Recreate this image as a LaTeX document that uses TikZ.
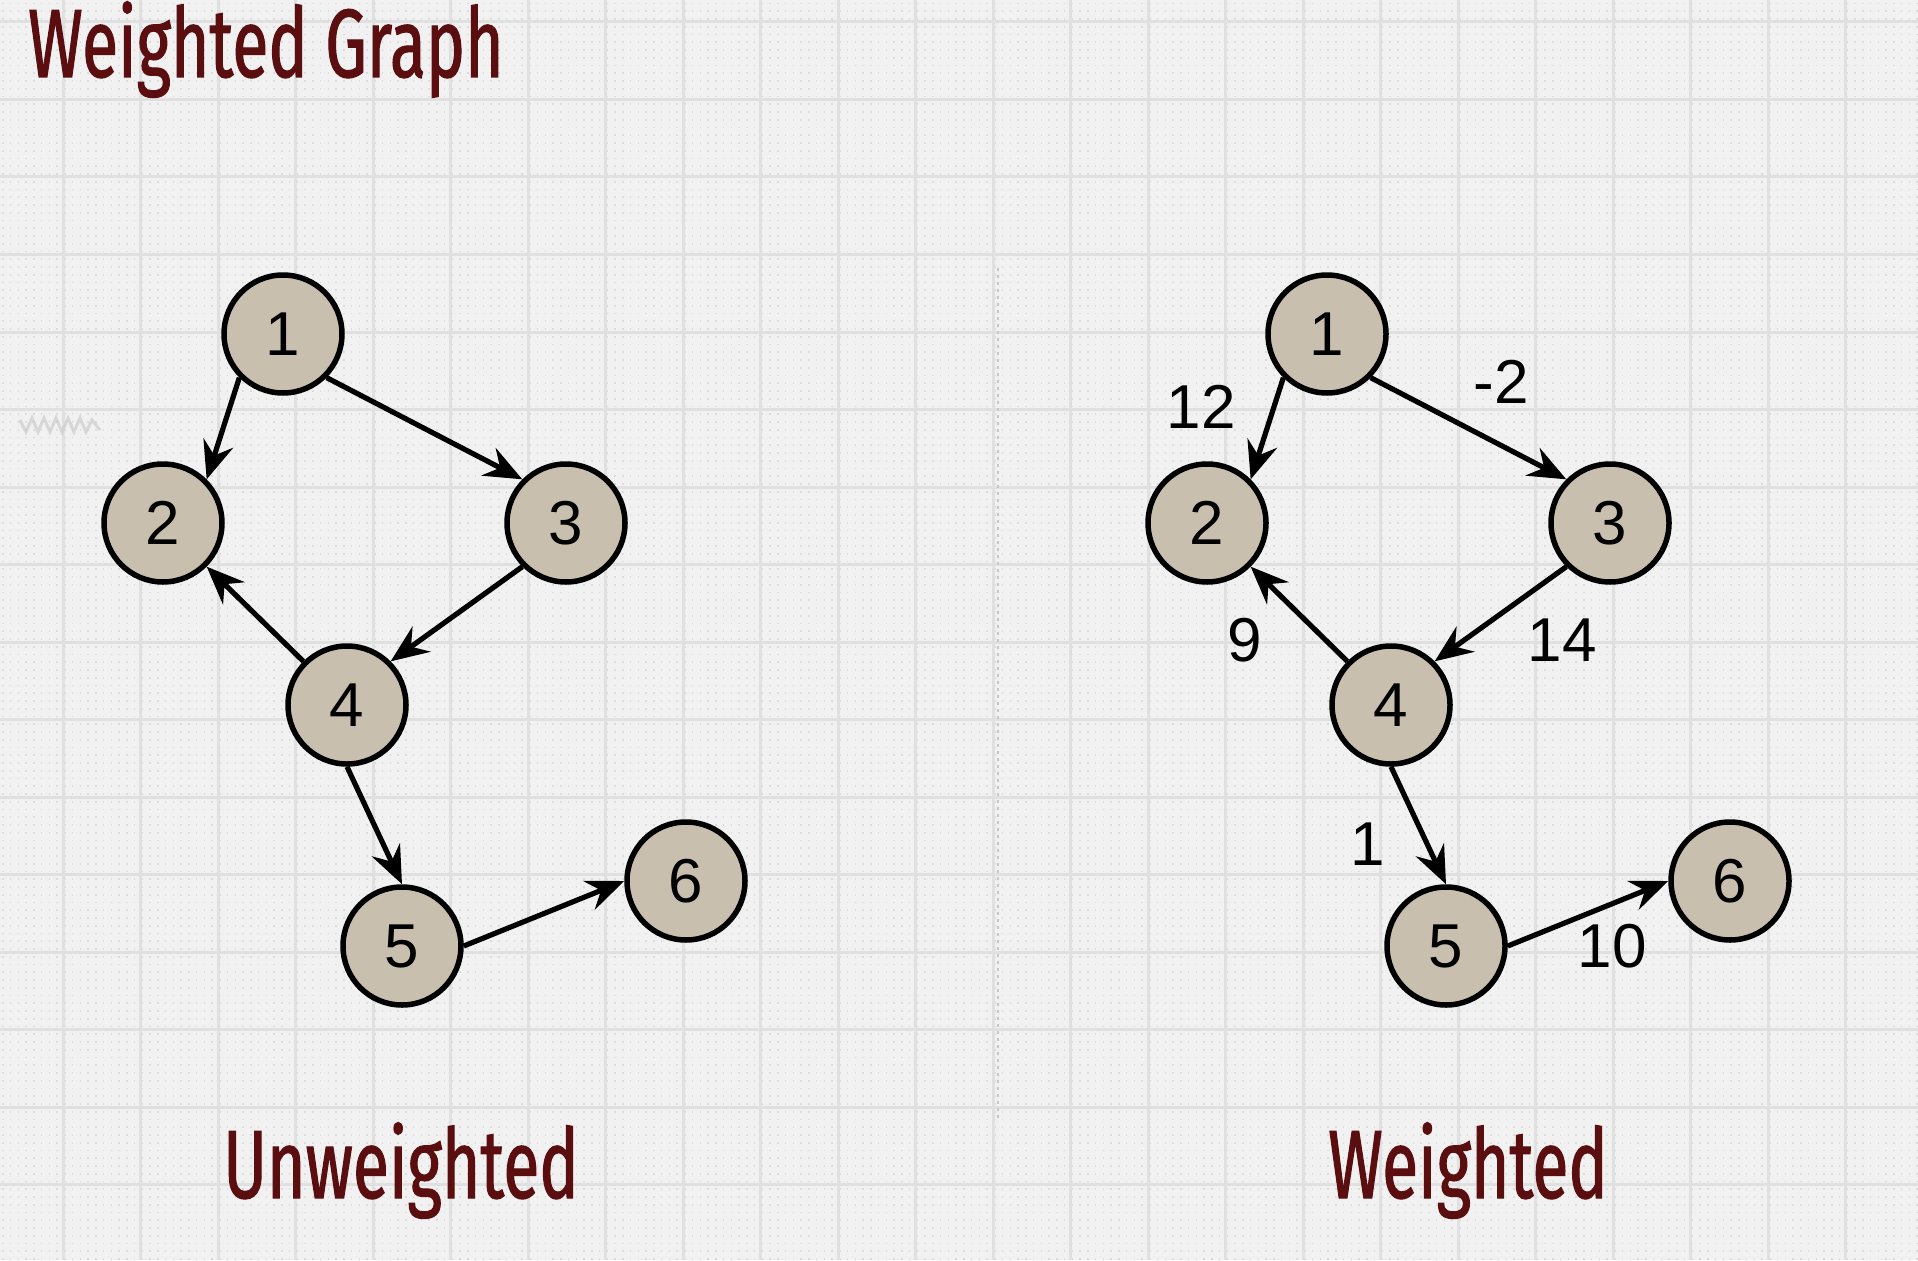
\documentclass[tikz,border=0pt]{standalone}
\usepackage{fontspec}
\usetikzlibrary{arrows.meta}
\setmainfont{Liberation Sans}
\newfontfamily\headfont[FakeStretch=0.68, FakeBold=1.1]{Fira Sans}
\definecolor{paper}{HTML}{F1F1F1}
\definecolor{gridline}{HTML}{E0E0E0}
\definecolor{griddot}{HTML}{DCDCDC}
\definecolor{nodefill}{HTML}{C9BFAE}
\definecolor{heading}{HTML}{5A0E10}
\tikzset{
  vertex/.style={circle, draw=black, line width=5.5pt, fill=nodefill,
    minimum size=118pt, inner sep=0pt, font=\fontsize{62}{62}\selectfont},
  edge/.style={line width=5.2pt, draw=black,
    -{Stealth[length=38pt,width=31pt,inset=13pt]}},
  weight/.style={font=\fontsize{62}{62}\selectfont, inner sep=0pt},
  headtext/.style={text=heading, inner sep=0pt,
    font=\headfont\fontsize{97}{97}\selectfont},
}
\begin{document}
\begin{tikzpicture}[x=1pt, y=-1pt]
  % page and grid
  \fill[paper] (0,0) rectangle (1918,1260);
  \useasboundingbox (0,0) rectangle (1918,1260);
  \foreach \yy in {0,7.75,...,1260}
    \draw[griddot, line width=1.6pt, dash pattern=on 1.6pt off 6.15pt]
      (2,\yy+3.5) -- (1918,\yy+3.5);
  \foreach \xx in {-14.5,63,...,1930}
    \draw[gridline, line width=3pt] (\xx,0) -- (\xx,1260);
  \foreach \yy in {22,99.5,...,1270}
    \draw[gridline, line width=3pt] (0,\yy) -- (1918,\yy);

  % divider between the two graphs
  \draw[black!22, line width=2pt, dash pattern=on 3pt off 4pt]
    (998,268) -- (998,1119);

  % faint smudge on the left
  \draw[black!22, line width=3pt, opacity=0.6]
    (20,420) -- (26,432) -- (32,418) -- (38,432) -- (44,418) -- (50,432)
    -- (56,418) -- (62,432) -- (68,418) -- (74,432) -- (80,418) -- (86,432)
    -- (92,420) -- (100,430);

  % headings
  \node[headtext, anchor=base west] (title) at (28,77) {Weighted Graph};
  \node[headtext, anchor=base] (lunw) at (401,1198) {Unweighted};
  \node[headtext, anchor=base] (lw) at (1468,1198) {Weighted};

  % unweighted graph
  \node[vertex] (a1) at (283,334) {1};
  \node[vertex] (a2) at (163,523) {2};
  \node[vertex] (a3) at (566,523) {3};
  \node[vertex] (a4) at (347,705) {4};
  \node[vertex] (a5) at (402,946) {5};
  \node[vertex] (a6) at (686,881) {6};
  \draw[edge] (a1.225) -- (a2.45);
  \draw[edge] (a1.-45) -- (a3.135);
  \draw[edge] (a3.225) -- (a4.45);
  \draw[edge] (a4.135) -- (a2.-45);
  \draw[edge] (a4.270) -- (a5.90);
  \draw[edge] (a5.0) -- (a6.180);

  % weighted graph
  \node[vertex] (b1) at (1327,334) {1};
  \node[vertex] (b2) at (1207,523) {2};
  \node[vertex] (b3) at (1610,523) {3};
  \node[vertex] (b4) at (1391,705) {4};
  \node[vertex] (b5) at (1446,946) {5};
  \node[vertex] (b6) at (1730,881) {6};
  \draw[edge] (b1.225) -- (b2.45);
  \draw[edge] (b1.-45) -- (b3.135);
  \draw[edge] (b3.225) -- (b4.45);
  \draw[edge] (b4.135) -- (b2.-45);
  \draw[edge] (b4.270) -- (b5.90);
  \draw[edge] (b5.0) -- (b6.180);

  % edge weights
  \node[weight] (w12) at (1201,407) {12};
  \node[weight] (w13) at (1501,382) {-2};
  \node[weight] (w42) at (1245,640) {9};
  \node[weight] (w34) at (1562,640) {14};
  \node[weight] (w45) at (1368,844) {1};
  \node[weight] (w56) at (1612,946) {10};
\end{tikzpicture}
\end{document}
